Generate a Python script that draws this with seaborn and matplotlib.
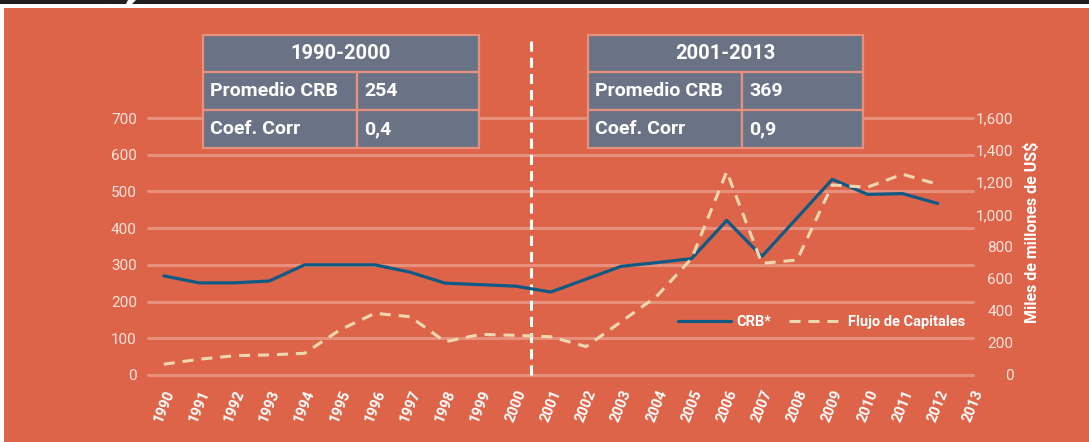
import numpy as np
import pandas as pd
import matplotlib.pyplot as plt
import seaborn as sns
from matplotlib.patches import Rectangle, Polygon

# Data
tick_years = ['1990', '1991', '1992', '1993', '1994', '1995', '1996', '1997',
              '1998', '1999', '2000', '2001', '2002', '2003', '2004', '2005',
              '2006', '2007', '2008', '2009', '2010', '2011', '2012', '2013']
crb = [270, 251, 251, 256, 300, 300, 300, 280, 250, 246, 242, 226,
       261, 296, 306, 317, 421, 323, 428, 533, 492, 494, 467]
flujo = [67, 98, 120, 125, 135, 280, 384, 363, 207, 253, 247, 238,
         177, 332, 488, 725, 1266, 695, 716, 1183, 1169, 1250, 1187]
left_ticks = [0, 100, 200, 300, 400, 500, 600, 700]
right_ticks = [0, 200, 400, 600, 800, 1000, 1200, 1400, 1600]

periods = ['1990-2000', '2001-2013']
promedio_crb = ['254', '369']
coef_corr = ['0,4', '0,9']
row_names = ['Promedio CRB', 'Coef. Corr']

ORANGE = '#DD6449'
GRID = '#E8907E'
TABLE = '#6A7386'
BLUE = '#0E5A84'
BEIGE = '#EFD8B0'
PALE = '#FBE4DD'

sns.set_style('white')
plt.rcParams['font.family'] = ['Roboto', 'DejaVu Sans']

W, H = 1089, 442
fig = plt.figure(figsize=(W / 100, H / 100), dpi=100, facecolor='white')


def fx(px):
    return px / W


def fy(py):
    return 1 - py / H


# page background and top band
fig.add_artist(Rectangle((fx(4), 0), 1 - fx(4), fy(8), transform=fig.transFigure,
                         fc=ORANGE, ec='none', zorder=0))
fig.add_artist(Rectangle((0, fy(3.5)), 1, fy(0) - fy(3.5), transform=fig.transFigure,
                         fc='#231F20', ec='none', zorder=0))
fig.add_artist(Polygon([(fx(128), fy(0)), (fx(136), fy(0)), (fx(132), fy(4)), (fx(126), fy(4))],
                       closed=True, transform=fig.transFigure, fc='white', ec='none', zorder=1))

ax = fig.add_axes([fx(148), fy(375), fx(973) - fx(148), fy(118) - fy(375)])
ax.set_facecolor('none')
ax2 = ax.twinx()

df = pd.DataFrame({'pos': np.arange(len(crb)), 'crb': crb, 'flujo': flujo})

sns.lineplot(data=df, x='pos', y='crb', ax=ax, color=BLUE, lw=2.3, legend=False, zorder=4)
sns.lineplot(data=df, x='pos', y='flujo', ax=ax2, color=BEIGE, lw=2.2, legend=False,
             linestyle=(0, (3.6, 2.6)))

ax.set_xlim(-0.45, len(tick_years) - 1)
ax.set_ylim(0, 700)
ax2.set_ylim(0, 1600)

ax.set_xticks(range(len(tick_years)))
ax.set_xticklabels(tick_years, rotation=68, ha='right', va='top', rotation_mode='anchor',
                   fontsize=10.5, color='white', fontweight='bold')
ax.set_yticks(left_ticks)
ax.set_yticklabels([str(v) for v in left_ticks], fontsize=11, color=PALE)
ax2.set_yticks(right_ticks)
ax2.set_yticklabels([f'{v:,}' for v in right_ticks], fontsize=11, color=PALE)
for lab in ax2.get_yticklabels():
    lab.set_horizontalalignment('right')

ax.tick_params(axis='x', length=0, pad=9)
ax.tick_params(axis='y', length=0, pad=8)
ax2.tick_params(axis='y', length=0, pad=29)
ax.set_xlabel('')
ax.set_ylabel('')
ax2.set_ylabel('Miles de millones de US\\$', fontsize=11.5, fontweight='bold', color='white')
ax2.yaxis.set_label_coords(1.062, 0.556)

ax.yaxis.grid(True, color=GRID, lw=2.2)
ax.xaxis.grid(False)
for gl in ax.get_ygridlines():
    gl.set_clip_on(False)
ax.set_axisbelow(True)
for a in (ax, ax2):
    for s in a.spines.values():
        s.set_visible(False)

# period divider
ax.axvline(10.45, ymin=0, ymax=(375 - 35) / 257, color='white', lw=2.2,
           linestyle=(0, (3.3, 2.0)), clip_on=False, zorder=3)

leg = ax2.legend([ax.lines[0], ax2.lines[0]], ['CRB*', 'Flujo de Capitales'], ncol=2,
                 frameon=False, loc='center right', bbox_to_anchor=(0.99, 0.206),
                 borderaxespad=0, borderpad=0, handlelength=3.6, handletextpad=0.4,
                 columnspacing=1.2, prop={'weight': 'bold', 'size': 10.5})
for t in leg.get_texts():
    t.set_color('white')


# summary tables
def draw_table(left, split, right, title, prom, corr):
    top, r1, r2, bottom = 35, 72.5, 110, 148
    kw = dict(transform=fig.transFigure, fc=TABLE, ec=GRID, lw=1.6, zorder=5)
    fig.add_artist(Rectangle((fx(left), fy(r1)), fx(right - left), fy(top) - fy(r1), **kw))
    for ya, yb in ((r1, r2), (r2, bottom)):
        fig.add_artist(Rectangle((fx(left), fy(yb)), fx(split - left), fy(ya) - fy(yb), **kw))
        fig.add_artist(Rectangle((fx(split), fy(yb)), fx(right - split), fy(ya) - fy(yb), **kw))
    tk = dict(color='white', fontweight='bold', fontsize=14, va='center', zorder=6)
    fig.text(fx((left + right) / 2), fy((top + r1) / 2), title, ha='center',
             **{**tk, 'fontsize': 14.5})
    fig.text(fx(left + 7), fy((r1 + r2) / 2), row_names[0], ha='left', **tk)
    fig.text(fx(split + 7), fy((r1 + r2) / 2), prom, ha='left', **tk)
    fig.text(fx(left + 7), fy((r2 + bottom) / 2), row_names[1], ha='left', **tk)
    fig.text(fx(split + 7), fy((r2 + bottom) / 2), corr, ha='left', **tk)


draw_table(203, 357, 479, periods[0], promedio_crb[0], coef_corr[0])
draw_table(588, 742, 863, periods[1], promedio_crb[1], coef_corr[1])

fig.savefig('out.png', dpi=100, facecolor=fig.get_facecolor())
